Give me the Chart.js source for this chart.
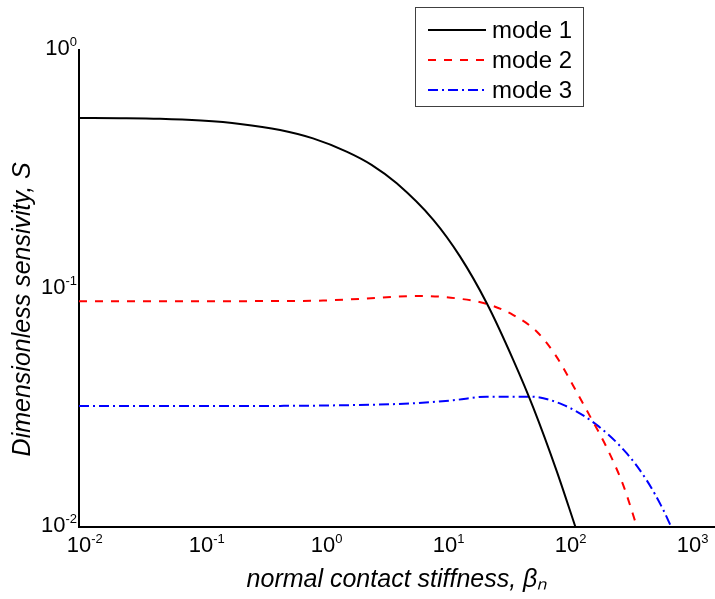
<!DOCTYPE html>
<html>
<head>
<meta charset="utf-8">
<script src="https://cdn.jsdelivr.net/npm/chart.js@4/dist/chart.umd.min.js"></script>
<style>
  html, body { margin: 0; padding: 0; background: #fff; }
  #wrap { width: 715px; height: 599px; }
</style>
</head>
<body>
<div id="wrap"><canvas id="c" width="715" height="599"></canvas></div>
<script>
// ---- data ----
const seriesNames = ['mode 1', 'mode 2', 'mode 3'];

const mode1X = [0.01, 0.0217, 0.0461, 0.1, 0.209, 0.445, 0.828, 1.56, 2.5, 4.02, 8.02, 13.3, 22.0, 36.3, 53, 82.2, 118];
const mode1Y = [0.519, 0.518, 0.515, 0.506, 0.490, 0.462, 0.426, 0.375, 0.330, 0.276, 0.194, 0.136, 0.0867, 0.0501, 0.0316, 0.0172, 0.0099];

const mode2X = [0.01, 0.1, 0.445, 1.0, 2.0, 6.24, 12.5, 22.0, 36.3, 56.4, 82.2, 112.7, 154.5, 211, 290, 377];
const mode2Y = [0.0885, 0.0885, 0.0886, 0.0890, 0.0905, 0.0931, 0.0909, 0.0862, 0.0774, 0.0660, 0.0517, 0.0390, 0.0291, 0.0216, 0.0149, 0.0099];

const mode3X = [0.01, 0.1, 0.445, 1.0, 5.5, 11.7, 22.0, 49.8, 93.3, 175, 308, 450, 615, 721];
const mode3Y = [0.0322, 0.0322, 0.0322, 0.0323, 0.0330, 0.0340, 0.0352, 0.0352, 0.0325, 0.0268, 0.0204, 0.0157, 0.0118, 0.0099];

const xTickValues = [0.01, 0.1, 1, 10, 100, 1000];
const xTickExponents = ['-2', '-1', '0', '1', '2', '3'];
const yTickValues = [0.01, 0.1, 1];
const yTickExponents = ['-2', '-1', '0'];

const xTitle = 'normal contact stiffness, \u03B2\u2099';
const yTitle = 'Dimensionless sensivity, S';

// ---- build chart ----
const toPts = (xs, ys) => xs.map((x, i) => ({ x: x, y: ys[i] }));
const styles = [
  { color: '#000000', dash: [] },
  { color: '#ff0000', dash: [8, 8] },
  { color: '#0000ff', dash: [10, 4, 2, 4] }
];
const seriesData = [toPts(mode1X, mode1Y), toPts(mode2X, mode2Y), toPts(mode3X, mode3Y)];

const FONT = "'Liberation Sans', Arial, sans-serif";
const BASE_FONT = '22px ' + FONT;
const SUP_FONT = '13px ' + FONT;

// Power-of-ten tick labels (base "10" with raised exponent), placed via the scales.
const powerTicks = {
  id: 'powerTicks',
  afterDraw(chart) {
    const ctx = chart.ctx;
    const xs = chart.scales.x, ys = chart.scales.y;
    ctx.save();
    ctx.fillStyle = '#000';
    ctx.textBaseline = 'alphabetic';
    xTickValues.forEach((v, i) => {
      const px = xs.getPixelForValue(v);
      const baseY = xs.top + 25;
      ctx.font = BASE_FONT;
      const bw = ctx.measureText('10').width;
      ctx.textAlign = 'center';
      ctx.fillText('10', px, baseY);
      ctx.font = SUP_FONT;
      ctx.textAlign = 'left';
      ctx.fillText(xTickExponents[i], px + bw / 2, baseY - 9);
    });
    yTickValues.forEach((v, i) => {
      const py = ys.getPixelForValue(v);
      const rightX = ys.right - 2;
      const baseY = py + 5;
      ctx.font = SUP_FONT;
      const ew = ctx.measureText(yTickExponents[i]).width;
      ctx.textAlign = 'right';
      ctx.fillText(yTickExponents[i], rightX, baseY - 9);
      ctx.font = BASE_FONT;
      ctx.fillText('10', rightX - ew, baseY);
    });
    ctx.restore();
  }
};

const boxLegend = {
  id: 'boxLegend',
  afterDraw(chart) {
    const ctx = chart.ctx;
    const L = 415, T = 7, R = 584, B = 107;
    ctx.save();
    ctx.fillStyle = '#ffffff';
    ctx.fillRect(L, T, R - L, B - T);
    ctx.strokeStyle = '#404040';
    ctx.lineWidth = 1;
    ctx.strokeRect(L + 0.5, T + 0.5, R - L - 1, B - T - 1);
    const rows = [30, 60, 90];
    chart.data.datasets.forEach((ds, i) => {
      const y = rows[i];
      ctx.beginPath();
      ctx.strokeStyle = ds.borderColor;
      ctx.lineWidth = ds.borderWidth;
      ctx.setLineDash(ds.borderDash || []);
      ctx.moveTo(428, y);
      ctx.lineTo(486, y);
      ctx.stroke();
      ctx.setLineDash([]);
      ctx.fillStyle = '#000';
      ctx.font = '24px ' + FONT;
      ctx.textAlign = 'left';
      ctx.textBaseline = 'middle';
      ctx.fillText(ds.label, 492, y + 1);
    });
    ctx.restore();
  }
};

new Chart(document.getElementById('c'), {
  type: 'line',
  data: {
    datasets: seriesNames.map((name, i) => ({
      label: name,
      data: seriesData[i],
      borderColor: styles[i].color,
      backgroundColor: styles[i].color,
      borderDash: styles[i].dash,
      borderWidth: 2,
      pointRadius: 0,
      cubicInterpolationMode: 'monotone',
      fill: false
    }))
  },
  options: {
    responsive: false,
    animation: false,
    devicePixelRatio: 1,
    layout: { padding: { top: 50, right: 0, bottom: 0, left: 0 } },
    plugins: { legend: { display: false }, tooltip: { enabled: false } },
    scales: {
      x: {
        type: 'logarithmic',
        min: 0.01,
        max: 1633,
        afterBuildTicks: (s) => { s.ticks = xTickValues.map(v => ({ value: v })); },
        afterFit: (s) => { s.height = 72; },
        grid: { display: false, drawTicks: false },
        border: { display: true, color: '#000', width: 2 },
        ticks: { display: false },
        title: {
          display: true, text: xTitle, color: '#000',
          font: { family: FONT, size: 25, style: 'italic' },
          padding: { top: 0, bottom: 4 }
        }
      },
      y: {
        type: 'logarithmic',
        min: 0.01,
        max: 1,
        afterBuildTicks: (s) => { s.ticks = yTickValues.map(v => ({ value: v })); },
        afterFit: (s) => { s.width = 79; },
        grid: { display: false, drawTicks: false },
        border: { display: true, color: '#000', width: 2 },
        ticks: { display: false },
        title: {
          display: true, text: yTitle + '      ', color: '#000',
          font: { family: FONT, size: 25, style: 'italic' },
          padding: { top: 8, bottom: 0 }
        }
      }
    }
  },
  plugins: [powerTicks, boxLegend]
});
</script>
</body>
</html>
